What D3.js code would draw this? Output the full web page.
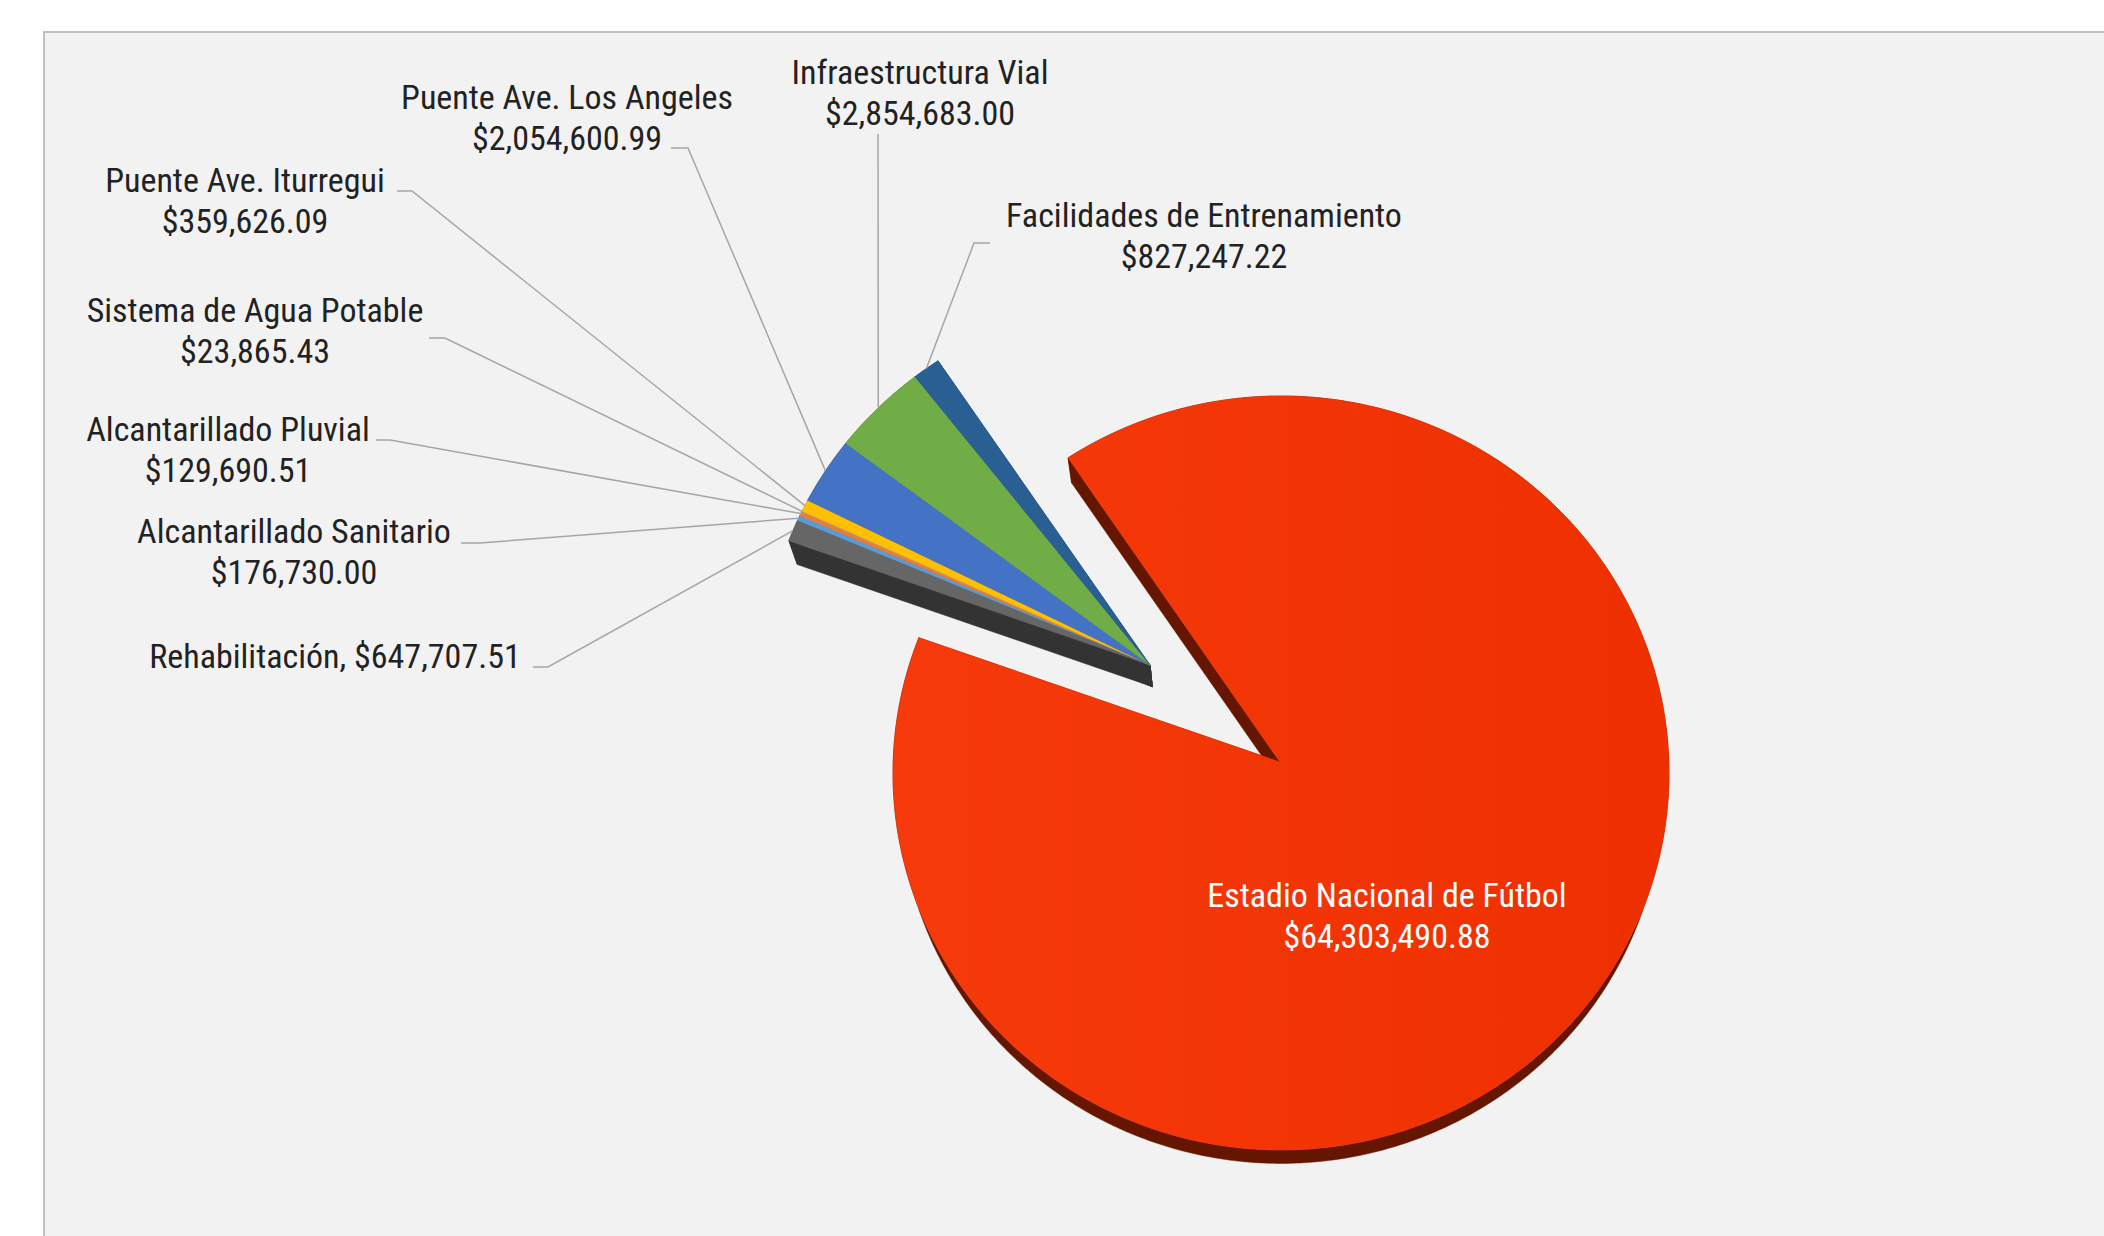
<!DOCTYPE html>
<html>
<head>
<meta charset="utf-8">
<script src="https://cdn.jsdelivr.net/npm/d3@7"></script>
<style>
  html, body { margin: 0; padding: 0; background: #ffffff; }
  svg { display: block; }
</style>
</head>
<body>
<svg id="chart" width="2104" height="1236"></svg>
<script>
// ---------------- DATA ----------------
const categories = [
  "Alcantarillado Sanitario",
  "Alcantarillado Pluvial",
  "Sistema de Agua Potable",
  "Puente Ave. Iturregui",
  "Puente Ave. Los Angeles",
  "Infraestructura Vial",
  "Facilidades de Entrenamiento",
  "Estadio Nacional de Fútbol",
  "Rehabilitación"
];
const values = [
  176730.00,
  129690.51,
  23865.43,
  359626.09,
  2054600.99,
  2854683.00,
  827247.22,
  64303490.88,
  647707.51
];
const sliceColors = [
  "#5B9BD5", "#ED7D31", "#A5A5A5", "#FFC000", "#4472C4",
  "#70AD47", "#2A5F93", "#F4360A", "#666666"
];
// group 0 = main slice, group 1 = exploded group of small slices
const explodeGroup = [1, 1, 1, 1, 1, 1, 1, 0, 1];

// ---------------- LAYOUT ----------------
const W = 2104, H = 1236;
const firstSliceAngle = 294.3;           // degrees, clockwise from 12 o'clock
const centre = [1280, 762];              // pie vertex on top face
const ellOff = [1, 11];                  // perspective shift of ellipse centre
const RX = 388, RY = 377;
const groupOffset = [[0, 0], [-130, -97]];
const persp = { px: 1280, py: 1940, s: 0.9830 };   // depth (bottom face) transform

// label layout: text centre x, first line centre y, leader start, elbow
const labelLayout = [
  { x: 294, y: 531, oneLine: false, lead: [[461, 543], [480, 543]] },
  { x: 228, y: 429, oneLine: false, lead: [[376, 440], [390, 440]] },
  { x: 255, y: 310, oneLine: false, lead: [[429, 338], [445, 338]] },
  { x: 245, y: 180, oneLine: false, lead: [[397, 191], [412, 191]] },
  { x: 567, y: 97,  oneLine: false, lead: [[671, 148], [688, 148]] },
  { x: 920, y: 72,  oneLine: false, lead: [[878, 134], [878, 134]] },
  { x: 1204, y: 215, oneLine: false, lead: [[990, 243], [974, 243]] },
  { x: 1387, y: 895, oneLine: false, lead: null, inside: true },
  { x: 335, y: 656, oneLine: true,  lead: [[533, 667], [548, 667]] }
];

const fontFamily = "'Liberation Sans Narrow', 'Arial Narrow', 'Roboto Condensed', sans-serif";
const fontSize = 34;
const lineGap = 40.5;
const fmt = d3.format("$,.2f");

// ---------------- DRAW ----------------
const svg = d3.select("#chart");
const defs = svg.append("defs");
const grad = defs.append("linearGradient").attr("id", "redGrad")
  .attr("x1", "0%").attr("y1", "0%").attr("x2", "100%").attr("y2", "0%");
grad.append("stop").attr("offset", "0%").attr("stop-color", "#F73A0B");
grad.append("stop").attr("offset", "100%").attr("stop-color", "#EE3000");

// chart area
svg.append("rect").attr("x", 0).attr("y", 0).attr("width", W).attr("height", H).attr("fill", "#ffffff");
svg.append("rect").attr("x", 44).attr("y", 32).attr("width", W).attr("height", H)
  .attr("fill", "#F2F2F2").attr("stroke", "#BFBFBF").attr("stroke-width", 2);

const rad = Math.PI / 180;
const pie = d3.pie().sort(null).value(d => d)
  .startAngle(firstSliceAngle * rad)
  .endAngle(firstSliceAngle * rad + 2 * Math.PI);
const arcs = pie(values);

function topPt(a, off) {
  return [centre[0] + off[0] + ellOff[0] + RX * Math.sin(a),
          centre[1] + off[1] + ellOff[1] - RY * Math.cos(a)];
}
function vertex(off) { return [centre[0] + off[0], centre[1] + off[1]]; }
function bot(p) {
  return [persp.px + persp.s * (p[0] - persp.px), persp.py + persp.s * (p[1] - persp.py)];
}
function arcSamples(a0, a1, off) {
  const n = Math.max(2, Math.ceil((a1 - a0) / (0.5 * rad)));
  const pts = [];
  for (let i = 0; i <= n; i++) pts.push(topPt(a0 + (a1 - a0) * i / n, off));
  return pts;
}
const line = d3.line();

const slices = arcs.map((d, i) => {
  const off = groupOffset[explodeGroup[i]];
  const v = vertex(off);
  const arcPts = arcSamples(d.startAngle, d.endAngle, off);
  return { d, i, off, v, arcPts };
});

function sideColor(i) {
  if (i === 7) return "#661600";
  if (i === 8) return "#333333";
  return d3.color(sliceColors[i]).darker(1.3).formatHex();
}

// side walls first
const sideG = svg.append("g");
slices.forEach(s => {
  const c = sideColor(s.i);
  const a = s.arcPts[0], b = s.arcPts[s.arcPts.length - 1];
  [[s.v, a], [s.v, b]].forEach(([p, q]) => {
    sideG.append("path").attr("d", line([p, q, bot(q), bot(p)]) + "Z")
      .attr("fill", c).attr("stroke", c).attr("stroke-width", 0.5);
  });
  const outer = s.arcPts.concat(s.arcPts.slice().reverse().map(bot));
  sideG.append("path").attr("d", line(outer) + "Z")
    .attr("fill", c).attr("stroke", c).attr("stroke-width", 0.5);
});

// top faces
const topG = svg.append("g");
slices.forEach(s => {
  topG.append("path")
    .attr("d", line([s.v].concat(s.arcPts)) + "Z")
    .attr("fill", s.i === 7 ? "url(#redGrad)" : sliceColors[s.i])
    .attr("stroke", s.i === 7 ? "#F23406" : sliceColors[s.i])
    .attr("stroke-width", 0.6);
});

// leader lines
const leadG = svg.append("g");
slices.forEach(s => {
  const L = labelLayout[s.i];
  if (!L.lead) return;
  const mid = topPt((s.d.startAngle + s.d.endAngle) / 2, s.off);
  leadG.append("path")
    .attr("d", line([L.lead[0], L.lead[1], mid]))
    .attr("fill", "none").attr("stroke", "#A6A6A6").attr("stroke-width", 1.5);
});

// labels
const labG = svg.append("g").attr("font-family", fontFamily).attr("font-size", fontSize)
  .attr("text-anchor", "middle");
slices.forEach(s => {
  const L = labelLayout[s.i];
  const fill = L.inside ? "#FFFFFF" : "#222222";
  const t = labG.append("text").attr("fill", fill);
  if (L.oneLine) {
    t.append("tspan").attr("x", L.x).attr("y", L.y).attr("dy", "0.36em")
      .text(categories[s.i] + ", " + fmt(values[s.i]));
  } else {
    t.append("tspan").attr("x", L.x).attr("y", L.y).attr("dy", "0.36em").text(categories[s.i]);
    t.append("tspan").attr("x", L.x).attr("y", L.y + lineGap).attr("dy", "0.36em").text(fmt(values[s.i]));
  }
});
</script>
</body>
</html>
